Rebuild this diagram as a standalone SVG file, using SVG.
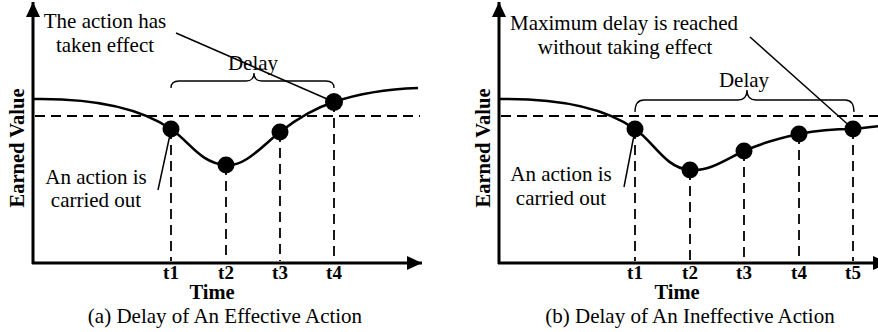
<svg xmlns="http://www.w3.org/2000/svg" width="878" height="332" viewBox="0 0 878 332">
  <defs>
    <style>
      .axis { stroke: #000; stroke-width: 3; fill: none; }
      .curve { stroke: #000; stroke-width: 2.6; fill: none; stroke-linejoin: round; }
      .guide { stroke: #000; stroke-width: 1.8; fill: none; stroke-dasharray: 10 6; }
      .lead { stroke: #000; stroke-width: 1.5; fill: none; }
      .brace { stroke: #000; stroke-width: 1.3; fill: none; }
      .dot { fill: #000; }
      .txt { font-family: "Liberation Serif", "Times New Roman", serif; font-size: 21px; fill: #000; text-anchor: middle; }
      .tick { font-family: "Liberation Serif", "Times New Roman", serif; font-size: 19px; font-weight: bold; fill: #000; text-anchor: middle; }
      .lbl { font-family: "Liberation Serif", "Times New Roman", serif; font-size: 20.5px; font-weight: bold; fill: #000; text-anchor: middle; }
    </style>
    <marker id="arr" markerWidth="16" markerHeight="14" refX="15" refY="7" orient="auto" markerUnits="userSpaceOnUse">
      <path d="M0,0 L15,7 L0,14 Z" fill="#000"/>
    </marker>
  </defs>
  <rect width="878" height="332" fill="#fff"/>

  <!-- Panel (a): effective action -->
  <g id="panel-a">
    <g id="axes-a">
      <line class="axis" x1="33" y1="264" x2="33" y2="2" marker-end="url(#arr)"/>
      <line class="axis" x1="32" y1="263" x2="422" y2="263" marker-end="url(#arr)"/>
      <text class="lbl" transform="translate(24,148) rotate(-90)" font-size="21">Earned Value</text>
      <text class="lbl" x="212" y="299">Time</text>
    </g>
    <g id="guides-a">
      <line class="guide" x1="35" y1="116" x2="420" y2="116"/>
      <line class="guide" x1="171" y1="129" x2="171" y2="261"/>
      <line class="guide" x1="226" y1="165" x2="226" y2="261"/>
      <line class="guide" x1="280" y1="132" x2="280" y2="261"/>
      <line class="guide" x1="334" y1="102" x2="334" y2="261"/>
    </g>
    <path id="curve-a" class="curve" d="M33,99 C95,98 140,108 171,129 C190,142 200,163 226,165 C245,167 262,146 280,132 C298,118 315,108 334,102 C360,93 390,89 418,88"/>
    <g id="points-a">
      <circle class="dot" cx="171" cy="129" r="8.5"/>
      <circle class="dot" cx="226" cy="165" r="8.5"/>
      <circle class="dot" cx="280" cy="132" r="8.5"/>
      <circle class="dot" cx="334" cy="102" r="9"/>
    </g>
    <g id="delay-a">
      <path class="brace" d="M171,88 Q171,81 179,81 L246,81 Q254,81 254,73 Q254,81 262,81 L326,81 Q334,81 334,88"/>
      <text class="txt" x="253" y="70">Delay</text>
    </g>
    <g id="note-effect-a">
      <text class="txt" x="105" y="28">The action has</text>
      <text class="txt" x="105" y="52">taken effect</text>
    </g>
    <g id="note-action-a">
      <text class="txt" x="96" y="184">An action is</text>
      <text class="txt" x="96" y="207">carried out</text>
    </g>
    <g id="ticks-a">
      <text class="tick" x="171" y="279">t1</text>
      <text class="tick" x="226" y="279">t2</text>
      <text class="tick" x="280" y="279">t3</text>
      <text class="tick" x="334" y="279">t4</text>
    </g>
    <text class="txt" x="225" y="323">(a) Delay of An Effective Action</text>
  </g>

  <!-- Panel (b): ineffective action -->
  <g id="panel-b">
    <g id="axes-b">
      <line class="axis" x1="499" y1="264" x2="499" y2="2" marker-end="url(#arr)"/>
      <line class="axis" x1="498" y1="263" x2="888" y2="263" marker-end="url(#arr)"/>
      <text class="lbl" transform="translate(490,148) rotate(-90)" font-size="21">Earned Value</text>
      <text class="lbl" x="677" y="299">Time</text>
    </g>
    <g id="guides-b">
      <line class="guide" x1="501" y1="116" x2="878" y2="116"/>
      <line class="guide" x1="635" y1="129" x2="635" y2="261"/>
      <line class="guide" x1="690" y1="170" x2="690" y2="261"/>
      <line class="guide" x1="744" y1="151" x2="744" y2="261"/>
      <line class="guide" x1="799" y1="134" x2="799" y2="261"/>
      <line class="guide" x1="853" y1="129" x2="853" y2="261"/>
    </g>
    <path id="curve-b" class="curve" d="M499,99 C561,98 605,108 635,129 C654,142 665,168 690,170 C710,172 728,158 744,151 C764,142 780,138 799,134 C819,130 838,129 853,129 C864,128 872,127 880,126"/>
    <g id="points-b">
      <circle class="dot" cx="635" cy="129" r="8.5"/>
      <circle class="dot" cx="690" cy="170" r="8.5"/>
      <circle class="dot" cx="744" cy="151" r="8.5"/>
      <circle class="dot" cx="799" cy="134" r="8.5"/>
      <circle class="dot" cx="853" cy="129" r="8.5"/>
    </g>
    <g id="delay-b">
      <path class="brace" d="M635,112 Q635,100 644,100 L738,100 Q747,100 747,90 Q747,100 756,100 L845,100 Q854,100 854,112"/>
      <text class="txt" x="744" y="87">Delay</text>
    </g>
    <g id="note-max-b">
      <text class="txt" x="624" y="30">Maximum delay is reached</text>
      <text class="txt" x="625" y="54">without taking effect</text>
    </g>
    <g id="note-action-b">
      <text class="txt" x="561" y="181">An action is</text>
      <text class="txt" x="561" y="205">carried out</text>
    </g>
    <g id="ticks-b">
      <text class="tick" x="635" y="279">t1</text>
      <text class="tick" x="690" y="279">t2</text>
      <text class="tick" x="744" y="279">t3</text>
      <text class="tick" x="799" y="279">t4</text>
      <text class="tick" x="853" y="279">t5</text>
    </g>
    <text class="txt" x="690" y="323">(b) Delay of An Ineffective Action</text>
  </g>

  <!-- Leader lines from notes to the points they describe -->
  <g id="connectors">
    <line class="lead" x1="176" y1="33" x2="334" y2="102"/>
    <line class="lead" x1="171" y1="130" x2="158" y2="190"/>
    <line class="lead" x1="750" y1="37" x2="853" y2="129"/>
    <line class="lead" x1="635" y1="130" x2="624" y2="187"/>
  </g>
</svg>
